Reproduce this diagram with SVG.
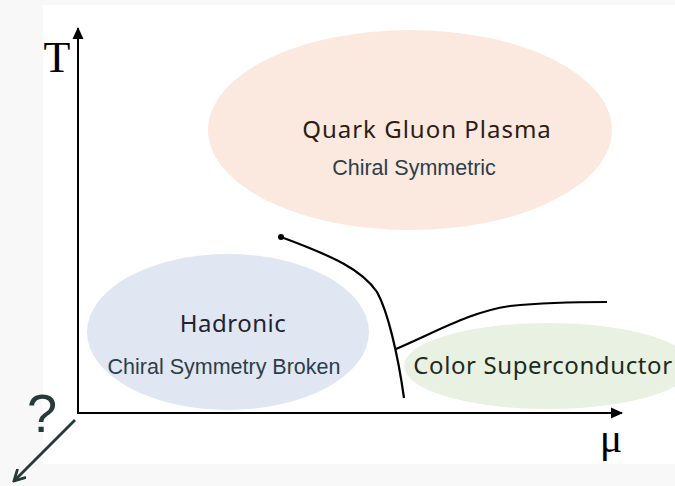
<svg xmlns="http://www.w3.org/2000/svg" width="675" height="486" viewBox="0 0 675 486">
<style>
.lbl{font-family:"Noto Sans","Liberation Sans",sans-serif;font-size:24px;text-anchor:middle}
.sub{font-family:"Liberation Sans",Arial,sans-serif;font-size:21.5px;fill:#2c3e48;text-anchor:middle}
.ax{stroke:#000;stroke-width:2;fill:none}
.ln{stroke:#000;stroke-width:2.2;fill:none}
</style>
<defs>
<marker id="ah" markerWidth="12" markerHeight="12" refX="11" refY="6" orient="auto" markerUnits="userSpaceOnUse">
<path d="M0,0.5 L12,6 L0,11.5 Z" fill="#000"/>
</marker>
<marker id="ah2" markerWidth="14" markerHeight="14" refX="12" refY="7" orient="auto" markerUnits="userSpaceOnUse">
<path d="M1,1 L12,7 L1,13" fill="none" stroke="#263a3a" stroke-width="2.8"/>
</marker>
</defs>
<rect width="675" height="486" fill="#f8f8f8"/>
<rect x="43" y="5" width="632" height="459" fill="#ffffff"/>
<g id="qgp">
<ellipse cx="410" cy="130" rx="202" ry="100" fill="#fbe9df"/>
<text class="lbl" x="427" y="138" fill="#2b1d14" letter-spacing="1">Quark Gluon Plasma</text>
<text class="sub" x="414" y="175">Chiral Symmetric</text>
</g>
<g id="hadronic">
<ellipse cx="228" cy="332" rx="141" ry="78" fill="#e1e6f3"/>
<text class="lbl" x="233" y="332" fill="#1f2430" letter-spacing="0.5">Hadronic</text>
<text class="sub" x="224" y="374">Chiral Symmetry Broken</text>
</g>
<g id="csc">
<ellipse cx="548" cy="366" rx="144" ry="43" fill="#e9f1e2"/>
<text class="lbl" x="543" y="374" fill="#1e2a1e" letter-spacing="0.6">Color Superconductor</text>
</g>
<g id="axes">
<line class="ax" x1="78" y1="414" x2="78" y2="28" marker-end="url(#ah)"/>
<line class="ax" x1="77" y1="413" x2="622" y2="413" marker-end="url(#ah)"/>
<text x="57" y="72" font-family="Liberation Serif,serif" font-size="44" text-anchor="middle" fill="#000">T</text>
<text x="611" y="452" font-family="Liberation Serif,serif" font-size="42" text-anchor="middle" fill="#000">μ</text>
<text x="42" y="432" font-family="Liberation Sans,Arial,sans-serif" font-size="54" text-anchor="middle" fill="#263a3a">?</text>
</g>
<g id="connectors">
<circle cx="281" cy="237" r="3" fill="#000"/>
<path class="ln" d="M281,237 C335,257 362,270 377,292 C388,312 398,355 404,398"/>
<path class="ln" d="M396,349 C440,330 470,312 510,306 C550,302 580,302 607,302"/>
<line x1="75" y1="420" x2="14" y2="481" stroke="#263a3a" stroke-width="2.8" marker-end="url(#ah2)"/>
</g>
</svg>
